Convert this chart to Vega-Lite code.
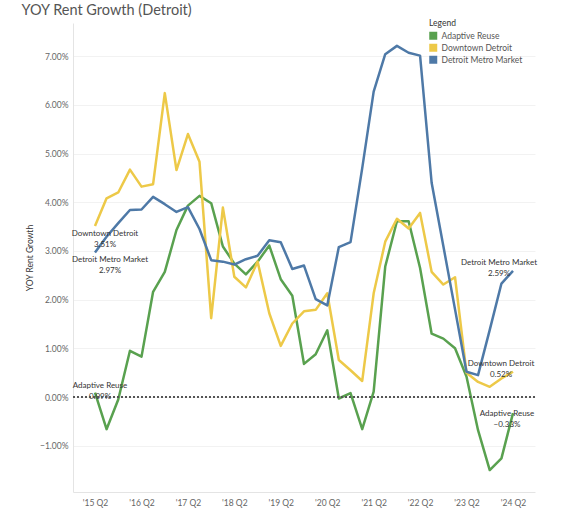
{
  "$schema": "https://vega.github.io/schema/vega-lite/v6.json",
  "autosize": {"type": "none"},
  "padding": {"left": 73, "top": 23, "right": 45, "bottom": 22},
  "width": 462,
  "height": 469,
  "background": "white",
  "title": {
    "text": "YOY Rent Growth (Detroit)",
    "anchor": "start",
    "font": "Lato",
    "fontSize": 14.5,
    "fontWeight": "normal",
    "color": "#555555",
    "dx": -4,
    "offset": 1
  },
  "config": {
    "view": {"stroke": null},
    "font": "Lato",
    "text": {"font": "Lato", "fontSize": 8, "color": "#333333", "align": "center", "lineBreak": "\n", "lineHeight": 11}
  },
  "data": {
    "values": [
      {"date": "2015-04-01", "series": "Adaptive Reuse", "value": 0.09},
      {"date": "2015-07-01", "series": "Adaptive Reuse", "value": -0.66},
      {"date": "2015-10-01", "series": "Adaptive Reuse", "value": -0.05},
      {"date": "2016-01-01", "series": "Adaptive Reuse", "value": 0.95},
      {"date": "2016-04-01", "series": "Adaptive Reuse", "value": 0.83},
      {"date": "2016-07-01", "series": "Adaptive Reuse", "value": 2.16},
      {"date": "2016-10-01", "series": "Adaptive Reuse", "value": 2.57},
      {"date": "2017-01-01", "series": "Adaptive Reuse", "value": 3.43},
      {"date": "2017-04-01", "series": "Adaptive Reuse", "value": 3.93},
      {"date": "2017-07-01", "series": "Adaptive Reuse", "value": 4.13},
      {"date": "2017-10-01", "series": "Adaptive Reuse", "value": 3.98},
      {"date": "2018-01-01", "series": "Adaptive Reuse", "value": 3.09},
      {"date": "2018-04-01", "series": "Adaptive Reuse", "value": 2.74},
      {"date": "2018-07-01", "series": "Adaptive Reuse", "value": 2.52},
      {"date": "2018-10-01", "series": "Adaptive Reuse", "value": 2.78},
      {"date": "2019-01-01", "series": "Adaptive Reuse", "value": 3.11},
      {"date": "2019-04-01", "series": "Adaptive Reuse", "value": 2.42},
      {"date": "2019-07-01", "series": "Adaptive Reuse", "value": 2.08},
      {"date": "2019-10-01", "series": "Adaptive Reuse", "value": 0.68},
      {"date": "2020-01-01", "series": "Adaptive Reuse", "value": 0.88},
      {"date": "2020-04-01", "series": "Adaptive Reuse", "value": 1.37},
      {"date": "2020-07-01", "series": "Adaptive Reuse", "value": -0.03},
      {"date": "2020-10-01", "series": "Adaptive Reuse", "value": 0.08},
      {"date": "2021-01-01", "series": "Adaptive Reuse", "value": -0.66},
      {"date": "2021-04-01", "series": "Adaptive Reuse", "value": 0.11},
      {"date": "2021-07-01", "series": "Adaptive Reuse", "value": 2.68},
      {"date": "2021-10-01", "series": "Adaptive Reuse", "value": 3.61},
      {"date": "2022-01-01", "series": "Adaptive Reuse", "value": 3.61},
      {"date": "2022-04-01", "series": "Adaptive Reuse", "value": 2.65},
      {"date": "2022-07-01", "series": "Adaptive Reuse", "value": 1.3},
      {"date": "2022-10-01", "series": "Adaptive Reuse", "value": 1.2},
      {"date": "2023-01-01", "series": "Adaptive Reuse", "value": 1.0},
      {"date": "2023-04-01", "series": "Adaptive Reuse", "value": 0.42},
      {"date": "2023-07-01", "series": "Adaptive Reuse", "value": -0.68},
      {"date": "2023-10-01", "series": "Adaptive Reuse", "value": -1.5},
      {"date": "2024-01-01", "series": "Adaptive Reuse", "value": -1.26},
      {"date": "2024-04-01", "series": "Adaptive Reuse", "value": -0.33},
      {"date": "2015-04-01", "series": "Downtown Detroit", "value": 3.51},
      {"date": "2015-07-01", "series": "Downtown Detroit", "value": 4.08},
      {"date": "2015-10-01", "series": "Downtown Detroit", "value": 4.2},
      {"date": "2016-01-01", "series": "Downtown Detroit", "value": 4.67},
      {"date": "2016-04-01", "series": "Downtown Detroit", "value": 4.32},
      {"date": "2016-07-01", "series": "Downtown Detroit", "value": 4.37},
      {"date": "2016-10-01", "series": "Downtown Detroit", "value": 6.24},
      {"date": "2017-01-01", "series": "Downtown Detroit", "value": 4.66},
      {"date": "2017-04-01", "series": "Downtown Detroit", "value": 5.4},
      {"date": "2017-07-01", "series": "Downtown Detroit", "value": 4.83},
      {"date": "2017-10-01", "series": "Downtown Detroit", "value": 1.62},
      {"date": "2018-01-01", "series": "Downtown Detroit", "value": 3.89},
      {"date": "2018-04-01", "series": "Downtown Detroit", "value": 2.47},
      {"date": "2018-07-01", "series": "Downtown Detroit", "value": 2.25},
      {"date": "2018-10-01", "series": "Downtown Detroit", "value": 2.78},
      {"date": "2019-01-01", "series": "Downtown Detroit", "value": 1.72},
      {"date": "2019-04-01", "series": "Downtown Detroit", "value": 1.05},
      {"date": "2019-07-01", "series": "Downtown Detroit", "value": 1.51},
      {"date": "2019-10-01", "series": "Downtown Detroit", "value": 1.76},
      {"date": "2020-01-01", "series": "Downtown Detroit", "value": 1.79},
      {"date": "2020-04-01", "series": "Downtown Detroit", "value": 2.13},
      {"date": "2020-07-01", "series": "Downtown Detroit", "value": 0.76},
      {"date": "2020-10-01", "series": "Downtown Detroit", "value": 0.55},
      {"date": "2021-01-01", "series": "Downtown Detroit", "value": 0.33},
      {"date": "2021-04-01", "series": "Downtown Detroit", "value": 2.13},
      {"date": "2021-07-01", "series": "Downtown Detroit", "value": 3.19},
      {"date": "2021-10-01", "series": "Downtown Detroit", "value": 3.66},
      {"date": "2022-01-01", "series": "Downtown Detroit", "value": 3.46},
      {"date": "2022-04-01", "series": "Downtown Detroit", "value": 3.78},
      {"date": "2022-07-01", "series": "Downtown Detroit", "value": 2.57},
      {"date": "2022-10-01", "series": "Downtown Detroit", "value": 2.31},
      {"date": "2023-01-01", "series": "Downtown Detroit", "value": 2.46},
      {"date": "2023-04-01", "series": "Downtown Detroit", "value": 0.5},
      {"date": "2023-07-01", "series": "Downtown Detroit", "value": 0.31},
      {"date": "2023-10-01", "series": "Downtown Detroit", "value": 0.21},
      {"date": "2024-01-01", "series": "Downtown Detroit", "value": 0.38},
      {"date": "2024-04-01", "series": "Downtown Detroit", "value": 0.52},
      {"date": "2015-04-01", "series": "Detroit Metro Market", "value": 2.97},
      {"date": "2015-07-01", "series": "Detroit Metro Market", "value": 3.29},
      {"date": "2015-10-01", "series": "Detroit Metro Market", "value": 3.57},
      {"date": "2016-01-01", "series": "Detroit Metro Market", "value": 3.84},
      {"date": "2016-04-01", "series": "Detroit Metro Market", "value": 3.85},
      {"date": "2016-07-01", "series": "Detroit Metro Market", "value": 4.11},
      {"date": "2016-10-01", "series": "Detroit Metro Market", "value": 3.96},
      {"date": "2017-01-01", "series": "Detroit Metro Market", "value": 3.8},
      {"date": "2017-04-01", "series": "Detroit Metro Market", "value": 3.9},
      {"date": "2017-07-01", "series": "Detroit Metro Market", "value": 3.45},
      {"date": "2017-10-01", "series": "Detroit Metro Market", "value": 2.81},
      {"date": "2018-01-01", "series": "Detroit Metro Market", "value": 2.78},
      {"date": "2018-04-01", "series": "Detroit Metro Market", "value": 2.72},
      {"date": "2018-07-01", "series": "Detroit Metro Market", "value": 2.83},
      {"date": "2018-10-01", "series": "Detroit Metro Market", "value": 2.9},
      {"date": "2019-01-01", "series": "Detroit Metro Market", "value": 3.22},
      {"date": "2019-04-01", "series": "Detroit Metro Market", "value": 3.18},
      {"date": "2019-07-01", "series": "Detroit Metro Market", "value": 2.63},
      {"date": "2019-10-01", "series": "Detroit Metro Market", "value": 2.7},
      {"date": "2020-01-01", "series": "Detroit Metro Market", "value": 2.01},
      {"date": "2020-04-01", "series": "Detroit Metro Market", "value": 1.88},
      {"date": "2020-07-01", "series": "Detroit Metro Market", "value": 3.08},
      {"date": "2020-10-01", "series": "Detroit Metro Market", "value": 3.18},
      {"date": "2021-01-01", "series": "Detroit Metro Market", "value": 4.7},
      {"date": "2021-04-01", "series": "Detroit Metro Market", "value": 6.27},
      {"date": "2021-07-01", "series": "Detroit Metro Market", "value": 7.04},
      {"date": "2021-10-01", "series": "Detroit Metro Market", "value": 7.21},
      {"date": "2022-01-01", "series": "Detroit Metro Market", "value": 7.07},
      {"date": "2022-04-01", "series": "Detroit Metro Market", "value": 7.01},
      {"date": "2022-07-01", "series": "Detroit Metro Market", "value": 4.4},
      {"date": "2022-10-01", "series": "Detroit Metro Market", "value": 3.1},
      {"date": "2023-01-01", "series": "Detroit Metro Market", "value": 1.8},
      {"date": "2023-04-01", "series": "Detroit Metro Market", "value": 0.52},
      {"date": "2023-07-01", "series": "Detroit Metro Market", "value": 0.45},
      {"date": "2023-10-01", "series": "Detroit Metro Market", "value": 1.38},
      {"date": "2024-01-01", "series": "Detroit Metro Market", "value": 2.33},
      {"date": "2024-04-01", "series": "Detroit Metro Market", "value": 2.59}
    ]
  },
  "transform": [
    {"calculate": "datum.series + '\\n' + format(datum.value, '.2f') + '%'", "as": "label"},
    {"calculate": "utcyear(datum.date) == 2015 && utcmonth(datum.date) == 3 ? 'first' : (utcyear(datum.date) == 2024 && utcmonth(datum.date) == 3 ? 'last' : '')", "as": "end"}
  ],
  "encoding": {
    "x": {
      "field": "date",
      "type": "temporal",
      "scale": {
        "type": "utc",
        "domain": [
          {"utc": true, "year": 2014, "month": 10, "date": 10},
          {"utc": true, "year": 2024, "month": 9, "date": 21}
        ]
      },
      "axis": {
        "title": null,
        "values": [
          {"utc": true, "year": 2015, "month": 4, "date": 1},
          {"utc": true, "year": 2016, "month": 4, "date": 1},
          {"utc": true, "year": 2017, "month": 4, "date": 1},
          {"utc": true, "year": 2018, "month": 4, "date": 1},
          {"utc": true, "year": 2019, "month": 4, "date": 1},
          {"utc": true, "year": 2020, "month": 4, "date": 1},
          {"utc": true, "year": 2021, "month": 4, "date": 1},
          {"utc": true, "year": 2022, "month": 4, "date": 1},
          {"utc": true, "year": 2023, "month": 4, "date": 1},
          {"utc": true, "year": 2024, "month": 4, "date": 1}
        ],
        "labelExpr": "'\\'' + utcFormat(datum.value, '%y') + ' Q2'",
        "labelAngle": 0,
        "labelFont": "Lato",
        "labelFontSize": 8.5,
        "labelColor": "#666666",
        "labelPadding": 6,
        "labelFlush": false,
        "ticks": false,
        "domainColor": "#e4e4e4",
        "grid": false
      }
    },
    "y": {
      "field": "value",
      "type": "quantitative",
      "scale": {"domain": [-1.95, 7.68], "nice": false, "zero": false},
      "axis": {
        "title": "YOY Rent Growth",
        "titleFont": "Lato",
        "titleFontSize": 8.5,
        "titleFontWeight": "normal",
        "titleColor": "#333333",
        "titlePadding": 5,
        "values": [-1, 0, 1, 2, 3, 4, 5, 6, 7],
        "labelExpr": "format(datum.value, '.2f') + '%'",
        "labelFont": "Lato",
        "labelFontSize": 8.5,
        "labelColor": "#666666",
        "labelPadding": 5,
        "ticks": false,
        "domainColor": "#e4e4e4",
        "gridColor": "#f2f2f2"
      }
    }
  },
  "layer": [
    {
      "mark": {"type": "line", "strokeWidth": 2.5, "strokeJoin": "round"},
      "encoding": {
        "color": {
          "field": "series",
          "type": "nominal",
          "scale": {
            "domain": ["Adaptive Reuse", "Downtown Detroit", "Detroit Metro Market"],
            "range": ["#59A14F", "#EDC948", "#4E79A7"]
          },
          "legend": {
            "orient": "none",
            "legendX": 356,
            "legendY": -4,
            "title": "Legend",
            "padding": 0,
            "symbolType": "square",
            "symbolSize": 64,
            "titleFont": "Lato",
            "titleFontSize": 8.5,
            "titleFontWeight": "normal",
            "titleColor": "#333333",
            "titlePadding": 4,
            "labelFont": "Lato",
            "labelFontSize": 8.5,
            "labelColor": "#555555",
            "rowPadding": 3,
            "encode": {
              "symbols": {
                "update": {
                  "fill": {"scale": "color", "field": "value"},
                  "strokeWidth": {"value": 0}
                }
              }
            }
          }
        }
      }
    },
    {
      "transform": [{"filter": "datum.series == 'Downtown Detroit' && datum.end == 'first'"}],
      "mark": {"type": "text", "baseline": "top", "dx": 10, "dy": 4},
      "encoding": {"text": {"field": "label"}}
    },
    {
      "transform": [{"filter": "datum.series == 'Detroit Metro Market' && datum.end == 'first'"}],
      "mark": {"type": "text", "baseline": "top", "dx": 15, "dy": 4},
      "encoding": {"text": {"field": "label"}}
    },
    {
      "transform": [{"filter": "datum.series == 'Adaptive Reuse' && datum.end == 'first'"}],
      "mark": {"type": "text", "baseline": "bottom", "dx": 5, "dy": -3},
      "encoding": {"text": {"field": "label"}}
    },
    {
      "transform": [{"filter": "datum.series == 'Detroit Metro Market' && datum.end == 'last'"}],
      "mark": {"type": "text", "baseline": "bottom", "dx": -14, "dy": -4},
      "encoding": {"text": {"field": "label"}}
    },
    {
      "transform": [{"filter": "datum.series == 'Downtown Detroit' && datum.end == 'last'"}],
      "mark": {"type": "text", "baseline": "bottom", "dx": -12, "dy": -4},
      "encoding": {"text": {"field": "label"}}
    },
    {
      "transform": [{"filter": "datum.series == 'Adaptive Reuse' && datum.end == 'last'"}],
      "mark": {"type": "text", "baseline": "middle", "dx": -6, "dy": 1},
      "encoding": {"text": {"field": "label"}}
    },
    {
      "mark": {"type": "rule", "color": "#555555", "strokeDash": [2, 2], "strokeWidth": 1},
      "encoding": {"y": {"datum": 0, "type": "quantitative"}, "x": {"value": 0}, "x2": {"value": 462}}
    }
  ]
}
